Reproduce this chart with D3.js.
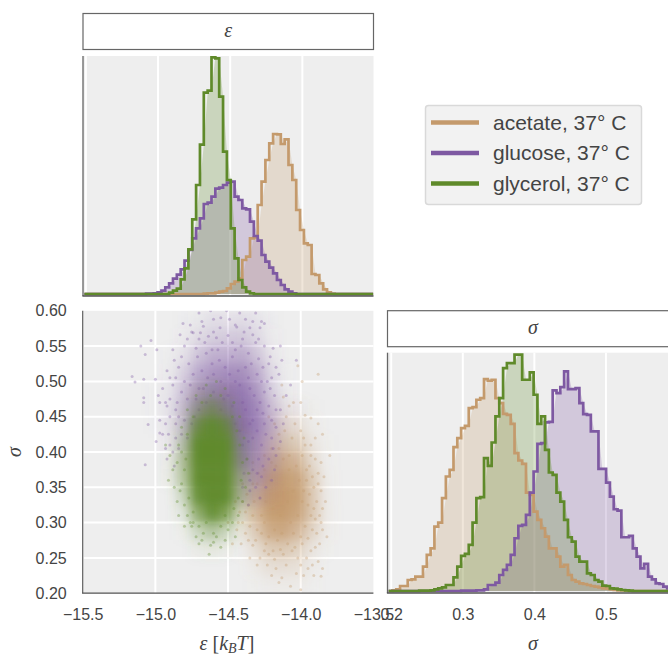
<!DOCTYPE html>
<html>
<head>
<meta charset="utf-8">
<script src="https://cdn.jsdelivr.net/npm/d3@7"></script>
<style>
body { margin: 0; background: #fff; overflow: hidden; }
text { font-family: "Liberation Sans", Arial, sans-serif; fill: #444; }
.math { font-family: "Liberation Serif", serif; font-style: italic; }
</style>
</head>
<body>
<div id="chart"></div>
<script>
const conditions = ["acetate, 37° C", "glucose, 37° C", "glycerol, 37° C"];
const colors = ["#C49A6C", "#7E59A2", "#5F8A2A"];

// histogram of epsilon, counts per bin
const epsBinStart = -15.51, epsBinWidth = 0.02668;
const epsAcetate = [0,0,0,0,0,0,0,0,0,0,0,0,0,0,0,0,0,0,0,0,0,0,0,0,0,0,0,0,0,0,0,1,2,2,4,7,9,17,30,37,47,102,112,167,170,267,337,402,452,480,479,450,464,387,342,252,192,152,147,60,57,32,14,5,1,0,0,0,0,0,0,0,0,0,0];
const epsGlucose = [0,0,0,0,0,0,0,0,0,0,0,0,0,0,0,0,1,1,2,5,10,20,32,46,58,74,100,132,167,197,227,270,274,292,316,319,327,334,337,292,282,257,254,217,174,160,117,97,79,62,42,27,14,7,2,0,0,0,0,0,0,0,0,0,0,0,0,0,0,0,0,0,0,0,0];
const epsGlycerol = [0,0,0,0,0,0,0,0,0,0,0,0,0,0,0,0,0,0,0,0,0,0,4,10,16,44,77,134,224,327,448,604,610,710,707,592,427,342,197,107,42,20,7,2,0,0,0,0,0,0,0,0,0,0,0,0,0,0,0,0,0,0,0,0,0,0,0,0,0,0,0,0,0,0,0];

// histogram of sigma, counts per bin
const sigBinStart = 0.1964, sigBinWidth = 0.00533;
const sigAcetate = [0,2,5,15,15,33,35,43,43,73,108,128,193,205,278,343,363,431,458,488,495,548,551,573,578,635,630,633,578,563,531,528,501,413,391,381,295,288,238,213,188,163,128,128,103,73,78,48,33,28,23,21,18,15,13,11,8,7,5,3,2,2,1,0,0,0,0,0,0,0,0,0,0,0,0];
const sigGlucose = [0,0,0,0,0,0,0,0,0,0,0,0,0,0,0,0,0,0,0,1,1,1,1,2,2,5,18,18,25,48,63,78,108,158,195,198,228,295,358,441,443,505,507,601,593,611,658,605,605,608,563,530,528,478,478,366,366,325,283,245,241,161,161,165,128,103,68,81,43,35,23,21,13,8,5];
const sigGlycerol = [0,0,0,0,0,0,0,0,1,1,1,2,5,8,11,18,18,41,73,105,111,138,205,278,281,398,375,445,523,578,668,683,683,708,708,633,633,655,588,501,523,423,355,348,295,268,213,161,148,103,88,88,53,48,33,28,16,15,8,7,5,3,2,1,0,0,0,0,0,0,0,0,0,0,0];

// sample density, one row per sigma, one column per epsilon
const acetateEps = [-14.52,-14.42,-14.32,-14.22,-14.12,-14.02,-13.92,-13.82];
const acetateSig = [0.4625,0.4375,0.4125,0.3875,0.3625,0.3375,0.3125,0.2875,0.2625,0.2375,0.2125];
const acetateDensity = [
  [0,0,.01,.04,.08,.05,.01,0],
  [0,0,.05,.2,.28,.2,.05,0],
  [0,.01,.15,.42,.5,.4,.12,.01],
  [0,.05,.3,.68,.78,.66,.25,.02],
  [.01,.13,.5,.9,.97,.88,.4,.04],
  [.01,.18,.65,.98,1,.94,.46,.05],
  [.01,.18,.6,.94,.98,.88,.45,.06],
  [0,.09,.4,.78,.85,.65,.3,.04],
  [0,.02,.18,.42,.46,.34,.12,.01],
  [0,0,.06,.18,.2,.17,.05,0],
  [0,0,.01,.05,.06,.06,.02,0]
];
const glucoseEps = [-15.0,-14.9,-14.8,-14.7,-14.6,-14.5,-14.4,-14.3,-14.2,-14.1,-14.0];
const glucoseSig = [0.5875,0.5625,0.5375,0.5125,0.4875,0.4625,0.4375,0.4125,0.3875,0.3625,0.3375];
const glucoseDensity = [
  [0,0,.01,.05,.12,.1,.12,.08,.01,0,0],
  [0,0,.04,.14,.22,.24,.26,.15,.03,0,0],
  [0,.02,.1,.3,.42,.42,.45,.28,.07,0,0],
  [0,.04,.22,.48,.6,.66,.65,.45,.15,.02,0],
  [.02,.08,.32,.6,.72,.8,.78,.58,.22,.03,0],
  [.02,.1,.38,.68,.8,.86,.85,.68,.32,.06,.01],
  [.01,.1,.35,.68,.8,.88,.88,.72,.4,.06,0],
  [0,.06,.22,.5,.72,.8,.82,.65,.32,.05,0],
  [0,.02,.1,.25,.45,.65,.75,.58,.3,.04,0],
  [0,0,.02,.08,.18,.32,.45,.45,.2,.02,0],
  [0,0,0,.01,.05,.14,.25,.2,.07,0,0]
];
const glycerolEps = [-14.91,-14.81,-14.71,-14.61,-14.51,-14.41,-14.31];
const glycerolSig = [0.4875,0.4625,0.4375,0.4125,0.3875,0.3625,0.3375,0.3125,0.2875,0.2625];
const glycerolDensity = [
  [0,0,.08,.16,.05,0,0],
  [0,.03,.35,.6,.3,.02,0],
  [0,.12,.8,1,.8,.08,0],
  [0,.3,1,1,1,.25,0],
  [.03,.4,1,1,1,.35,0],
  [.03,.38,1,1,1,.38,.01],
  [0,.25,.95,1,1,.35,.01],
  [0,.1,.65,.95,.75,.12,0],
  [0,.02,.25,.42,.25,.02,0],
  [0,0,.04,.07,.04,0,0]
];

// individual samples that can be told apart: [epsilon, sigma]
const acetatePoints = [[-14.02,.522],[-13.99,.5],[-13.88,.51],[-14.05,.47],[-14.12,.478],[-13.97,.452],[-14.04,.44],[-13.93,.448],[-13.88,.44],[-13.85,.425],[-13.8,.395],[-13.93,.41],[-13.9,.39],[-13.86,.385],[-13.88,.37],[-13.84,.365],[-13.91,.35],[-13.86,.345],[-13.85,.32],[-13.89,.33],[-13.9,.305],[-13.86,.3],[-13.85,.29],[-13.82,.28],[-13.87,.27],[-13.9,.265],[-13.93,.26],[-13.96,.25],[-13.88,.245],[-13.85,.235],[-13.91,.225],[-13.86,.224],[-13.95,.235],[-14.0,.24],[-14.03,.228],[-14.07,.21],[-14.0,.205],[-14.13,.222],[-14.17,.235],[-14.2,.225],[-14.23,.24],[-14.28,.25],[-14.25,.26],[-14.33,.268],[-14.36,.275],[-14.41,.27],[-14.47,.27],[-14.44,.29],[-14.5,.3],[-14.4,.3],[-14.42,.315],[-14.45,.33],[-14.37,.34],[-14.4,.355],[-14.35,.37],[-14.33,.385],[-13.95,.325],[-13.94,.38],[-13.98,.42],[-14.1,.45],[-14.18,.44],[-14.15,.405],[-14.08,.395],[-13.99,.395],[-13.96,.36],[-13.97,.295],[-14.0,.28],[-14.06,.26],[-14.12,.255],[-14.19,.26],[-14.3,.29],[-14.33,.31],[-14.28,.335],[-14.3,.355],[-14.25,.375],[-14.2,.405],[-14.05,.285],[-14.02,.25],[-14.1,.24],[-14.16,.275],
  [-14.38,.315],[-14.35,.295],[-14.31,.275],[-14.27,.285],[-14.24,.27],[-14.22,.255],[-14.18,.248],[-14.14,.262],[-14.09,.27],[-14.04,.265],[-13.99,.27],[-13.95,.278],[-13.92,.29],[-13.93,.31],[-13.91,.32],[-13.94,.34],[-13.92,.365],[-13.96,.375],[-13.93,.395],[-13.97,.41],[-14.0,.43],[-14.06,.42],[-14.11,.43],[-14.15,.425],[-14.2,.385],[-14.25,.395],[-14.29,.37],[-14.33,.355],[-14.36,.325],[-14.32,.33],[-14.27,.31],[-14.25,.3],[-14.22,.28],[-14.18,.29],[-14.13,.285],[-14.07,.3],[-14.02,.31],[-13.99,.33],[-13.98,.345],[-14.01,.36],[-14.03,.38],[-14.08,.375],[-14.12,.39],[-14.17,.38],[-14.21,.36],[-14.24,.33],[-14.19,.32],[-14.14,.31],[-14.09,.33],[-14.05,.345],[-14.3,.24],[-14.15,.215],[-13.92,.24],[-13.98,.225],[-14.35,.25],[-13.88,.355],[-13.87,.31],[-13.83,.33],[-13.9,.42],[-14.08,.465],[-14.0,.47],[-14.22,.45],[-14.13,.495],[-14.4,.33],[-14.43,.3],[-14.38,.285],[-13.89,.285]];
const glucosePoints = [[-14.7,.597],[-14.62,.6],[-14.51,.6],[-14.42,.597],[-14.31,.597],[-14.68,.585],[-14.6,.588],[-14.49,.588],[-14.38,.588],[-14.27,.585],[-14.25,.582],[-14.81,.582],[-14.76,.58],[-14.67,.578],[-14.555,.576],[-14.44,.577],[-14.35,.576],[-14.28,.576],[-14.83,.566],[-14.74,.569],[-14.69,.569],[-14.635,.564],[-14.58,.562],[-14.5,.565],[-14.4,.56],[-14.33,.566],[-14.25,.55],[-14.19,.547],[-14.14,.55],[-15.03,.558],[-14.99,.545],[-15.07,.538],[-14.88,.545],[-14.8,.55],[-14.72,.547],[-14.65,.54],[-14.57,.545],[-14.45,.545],[-14.36,.54],[-14.29,.532],[-14.22,.525],[-14.13,.53],[-14.03,.53],[-15.16,.507],[-15.14,.499],[-15.08,.503],[-15.0,.503],[-14.92,.515],[-14.84,.52],[-14.77,.525],[-14.68,.515],[-14.61,.525],[-14.52,.52],[-14.43,.515],[-14.3,.51],[-14.2,.505],[-14.15,.51],[-14.07,.495],[-14.1,.48],[-14.95,.49],[-14.88,.495],[-14.8,.5],[-14.7,.49],[-14.55,.5],[-14.35,.49],[-14.25,.485],[-14.18,.48],[-15.08,.477],[-15.08,.47],[-14.97,.47],[-14.92,.465],[-14.85,.47],[-14.78,.475],[-14.65,.47],[-14.3,.46],[-14.22,.465],[-14.14,.46],[-14.12,.44],[-15.05,.439],[-14.97,.445],[-14.9,.45],[-14.86,.44],[-14.8,.445],[-14.25,.44],[-14.17,.435],[-14.995,.415],[-14.97,.427],[-14.91,.425],[-14.86,.42],[-14.82,.425],[-14.93,.405],[-14.88,.4],[-14.84,.405],[-15.07,.382],[-14.92,.39],[-14.87,.38],[-14.2,.42],[-14.14,.415],[-14.22,.39],[-14.18,.375],[-14.27,.365],[-14.31,.35],[-14.24,.35],[-14.35,.345],[-14.6,.51],[-14.5,.48],[-14.4,.47],[-14.35,.44],[-14.45,.44],[-14.4,.41],[-14.33,.42],[-14.37,.39],[-14.27,.41],[-14.55,.46],[-14.75,.44],[-14.7,.46],[-14.45,.5],[-14.38,.52],[-14.27,.5],
  [-14.78,.56],[-14.71,.535],[-14.66,.555],[-14.61,.545],[-14.54,.555],[-14.47,.535],[-14.41,.55],[-14.34,.525],[-14.31,.555],[-14.26,.52],[-14.23,.5],[-14.82,.535],[-14.74,.51],[-14.64,.505],[-14.56,.53],[-14.49,.51],[-14.42,.495],[-14.36,.505],[-14.32,.48],[-14.28,.47],[-14.21,.49],[-14.17,.46],[-14.86,.505],[-14.82,.485],[-14.76,.495],[-14.72,.475],[-14.67,.49],[-14.6,.485],[-14.53,.475],[-14.47,.465],[-14.38,.46],[-14.33,.445],[-14.26,.455],[-14.2,.445],[-14.9,.475],[-14.84,.45],[-14.78,.42],[-14.73,.45],[-14.42,.43],[-14.36,.415],[-14.3,.43],[-14.24,.425],[-14.19,.405],[-14.17,.395],[-14.29,.39],[-14.33,.375],[-14.26,.38],[-14.39,.37],[-14.35,.36],[-14.3,.37],[-14.2,.36],[-14.4,.35],[-14.28,.335],[-14.36,.325],[-14.86,.46],[-14.93,.44],[-14.95,.425],[-14.9,.41],[-14.93,.47],[-14.75,.57],[-14.55,.59],[-14.45,.58],[-14.33,.585],[-14.7,.56],[-14.6,.57],[-14.47,.555],[-14.39,.57],[-14.29,.56],[-14.21,.535],[-14.17,.52],[-14.87,.53],[-14.9,.505],[-14.98,.48],[-15.1,.55]];
const glycerolPoints = [[-14.93,.41],[-14.9,.395],[-14.88,.375],[-14.85,.385],[-14.91,.36],[-14.87,.35],[-14.82,.355],[-14.85,.33],[-14.8,.325],[-14.84,.31],[-14.78,.31],[-14.8,.295],[-14.75,.295],[-14.72,.28],[-14.7,.27],[-14.67,.285],[-14.62,.268],[-14.58,.28],[-14.55,.265],[-14.5,.29],[-14.47,.3],[-14.43,.31],[-14.4,.33],[-14.38,.35],[-14.36,.37],[-14.37,.39],[-14.39,.42],[-14.42,.45],[-14.46,.47],[-14.52,.49],[-14.58,.5],[-14.65,.495],[-14.72,.48],[-14.78,.46],[-14.82,.435],[-14.84,.41],[-14.79,.39],[-14.63,.255],[-14.74,.3],[-14.45,.28],
  [-14.82,.4],[-14.8,.375],[-14.83,.345],[-14.77,.335],[-14.74,.315],[-14.7,.295],[-14.65,.3],[-14.6,.285],[-14.55,.295],[-14.52,.31],[-14.46,.32],[-14.43,.335],[-14.41,.36],[-14.4,.385],[-14.42,.41],[-14.44,.43],[-14.47,.45],[-14.55,.48],[-14.62,.48],[-14.68,.47],[-14.74,.45],[-14.78,.425],[-14.76,.3],[-14.68,.275],[-14.6,.272],[-14.52,.275]];

const width = 668, height = 655;
const svg = d3.select("#chart").append("svg").attr("width", width).attr("height", height).style("display", "block");
const defs = svg.append("defs");
defs.append("filter").attr("id", "soft").attr("x", "-20%").attr("y", "-20%").attr("width", "140%").attr("height", "140%")
  .append("feGaussianBlur").attr("stdDeviation", 5.5);

const xTop = d3.scaleLinear().domain([-15.52, -13.507]).range([83, 373.5]);
const yTop = d3.scaleLinear().domain([-6, 714]).range([296, 56]);
const xRight = d3.scaleLinear().domain([0.1948, 0.5874]).range([387.5, 668.5]);
const yRight = d3.scaleLinear().domain([-6, 714]).range([593, 352.7]);
const xMain = d3.scaleLinear().domain([-15.5, -13.5]).range([82.7, 373.4]);
const yMain = d3.scaleLinear().domain([0.2, 0.6]).range([593.2, 310.8]);

function background(x0, x1, y0, y1, vals, hvals, x, y) {
  svg.append("rect").attr("x", x0).attr("y", y0).attr("width", x1 - x0).attr("height", y1 - y0).attr("fill", "#EEEEEE");
  svg.append("g").selectAll("line").data(vals).join("line")
    .attr("x1", d => x(d)).attr("x2", d => x(d)).attr("y1", y0).attr("y2", y1)
    .attr("stroke", "#fff").attr("stroke-width", 2);
  if (hvals) {
    svg.append("g").selectAll("line").data(hvals).join("line")
      .attr("x1", x0).attr("x2", x1).attr("y1", d => y(d)).attr("y2", d => y(d))
      .attr("stroke", "#fff").attr("stroke-width", 2);
  }
}

function spines(x0, x1, y0, y1) {
  svg.append("line").attr("x1", x0).attr("x2", x0).attr("y1", y0).attr("y2", y1).attr("stroke", "#666").attr("stroke-width", 1.3);
  svg.append("line").attr("x1", x0 - 0.6).attr("x2", x1).attr("y1", y1).attr("y2", y1).attr("stroke", "#555").attr("stroke-width", 1.3);
}

function strip(x0, x1, y0, y1, label) {
  svg.append("rect").attr("x", x0).attr("y", y0).attr("width", x1 - x0).attr("height", y1 - y0)
    .attr("fill", "#fff").attr("stroke", "#666").attr("stroke-width", 1.2);
  svg.append("text").attr("class", "math").attr("x", label === "σ" ? 533 : (x0 + x1) / 2).attr("y", (y0 + y1) / 2 + 5)
    .attr("text-anchor", "middle").style("font-size", "20px").text(label);
}

function hist(id, series, start, binWidth, x, y, x0, x1, y0, y1) {
  defs.append("clipPath").attr("id", id).append("rect").attr("x", x0).attr("y", y0 - 2).attr("width", x1 - x0).attr("height", y1 - y0 + 2);
  const g = svg.append("g").attr("clip-path", `url(#${id})`);
  series.forEach((counts, s) => {
    const pts = [[start, counts[0]]].concat(counts.map((c, i) => [start + (i + 1) * binWidth, c]));
    g.append("path")
      .attr("d", d3.area().x(d => x(d[0])).y0(y(0)).y1(d => y(d[1]))(pts))
      .attr("fill", colors[s]).attr("fill-opacity", 0.25);
  });
  series.forEach((counts, s) => {
    const pts = [[start, counts[0]]].concat(counts.map((c, i) => [start + (i + 1) * binWidth, c]));
    g.append("path")
      .attr("d", d3.line().x(d => x(d[0])).y(d => y(d[1])).curve(d3.curveStepBefore)(pts))
      .attr("fill", "none").attr("stroke", colors[s]).attr("stroke-width", 2.7);
  });
}

// top histogram
background(83, 373.5, 56, 296, [-15.5, -15, -14.5, -14], null, xTop, yTop);
hist("clipTop", [epsAcetate, epsGlucose, epsGlycerol], epsBinStart, epsBinWidth, xTop, yTop, 83, 373.5, 56, 296);
spines(83, 373.5, 56, 296);
strip(83, 373.5, 13.5, 49.5, "ε");

// right histogram
background(387.5, 668, 352.7, 593, [0.2, 0.3, 0.4, 0.5], null, xRight, yRight);
hist("clipRight", [sigAcetate, sigGlucose, sigGlycerol], sigBinStart, sigBinWidth, xRight, yRight, 387.5, 668, 352.7, 593);
spines(387.5, 668, 352.7, 593);
strip(387.5, 690, 310.7, 346.7, "σ");

// scatter
background(82.7, 373.4, 310.8, 593.2, [-15.5, -15, -14.5, -14], [0.25, 0.3, 0.35, 0.4, 0.45, 0.5, 0.55], xMain, yMain);
defs.append("clipPath").attr("id", "clipMain").append("rect").attr("x", 82.7).attr("y", 310.8).attr("width", 290.7).attr("height", 282.4);
const scatter = svg.append("g").attr("clip-path", "url(#clipMain)");
[
  [acetateEps, acetateSig, acetateDensity, acetatePoints],
  [glucoseEps, glucoseSig, glucoseDensity, glucosePoints],
  [glycerolEps, glycerolSig, glycerolDensity, glycerolPoints]
].forEach(([eps, sig, density, points], s) => {
  const cells = [];
  density.forEach((row, r) => row.forEach((v, c) => { if (v > 0) cells.push({ e: eps[c], s: sig[r], v }); }));
  scatter.append("g").attr("filter", "url(#soft)").selectAll("rect").data(cells).join("rect")
    .attr("x", d => xMain(d.e - 0.05))
    .attr("width", d => xMain(d.e + 0.05) - xMain(d.e - 0.05))
    .attr("y", d => yMain(d.s + 0.0125))
    .attr("height", d => yMain(d.s - 0.0125) - yMain(d.s + 0.0125))
    .attr("fill", colors[s]).attr("fill-opacity", d => d.v);
  scatter.append("g").selectAll("circle").data(points).join("circle")
    .attr("cx", d => xMain(d[0])).attr("cy", d => yMain(d[1])).attr("r", 1.5)
    .attr("fill", colors[s]).attr("fill-opacity", 0.35);
});
spines(82.7, 373.4, 310.8, 593.2);

// tick labels
function tickLayer(axis, offset, place) {
  const g = svg.append("g").attr("transform", offset).call(axis);
  g.select(".domain").remove();
  g.selectAll("text").style("font-family", '"Liberation Sans"').style("font-size", "16px").attr("fill", "#444");
  place(g.selectAll("text"));
}
tickLayer(d3.axisBottom(xMain).tickValues([-15.5, -15, -14.5, -14, -13.5]).tickFormat(d3.format(".1f")).tickSize(0), "translate(0,593.2)", t => t.attr("dy", null).attr("y", 27));
tickLayer(d3.axisBottom(xRight).tickValues([0.2, 0.3, 0.4, 0.5]).tickFormat(d3.format(".1f")).tickSize(0), "translate(0,593.2)", t => t.attr("dy", null).attr("y", 27));
tickLayer(d3.axisLeft(yMain).tickValues([0.2, 0.25, 0.3, 0.35, 0.4, 0.45, 0.5, 0.55, 0.6]).tickFormat(d3.format(".2f")).tickSize(0), "translate(82.7,0)", t => t.attr("x", -16));

// axis titles
const epsTitle = svg.append("text").attr("class", "math").attr("x", 227).attr("y", 650).attr("text-anchor", "middle").style("font-size", "20px");
epsTitle.append("tspan").text("ε ");
epsTitle.append("tspan").style("font-style", "normal").text("[");
epsTitle.append("tspan").text("k");
epsTitle.append("tspan").attr("dy", 3).style("font-size", "14px").text("B");
epsTitle.append("tspan").attr("dy", -3).text("T");
epsTitle.append("tspan").style("font-style", "normal").text("]");
svg.append("text").attr("class", "math").attr("x", 533).attr("y", 650).attr("text-anchor", "middle").style("font-size", "20px").text("σ");
svg.append("text").attr("class", "math").attr("transform", "translate(21,452) rotate(-90)").attr("text-anchor", "middle").style("font-size", "20px").text("σ");

// legend
svg.append("rect").attr("x", 425.5).attr("y", 105.5).attr("width", 216).attr("height", 99).attr("rx", 3)
  .attr("fill", "#F2F2F2").attr("stroke", "#D9D9D9").attr("stroke-width", 1.5);
const legendY = d3.scalePoint().domain(conditions).range([122.5, 183.5]);
conditions.forEach((name, i) => {
  svg.append("line").attr("x1", 431).attr("x2", 479).attr("y1", legendY(name)).attr("y2", legendY(name))
    .attr("stroke", colors[i]).attr("stroke-width", 4.5);
  svg.append("text").attr("x", 493).attr("y", legendY(name) + 7).style("font-size", "21px").text(name);
});
</script>
</body>
</html>
